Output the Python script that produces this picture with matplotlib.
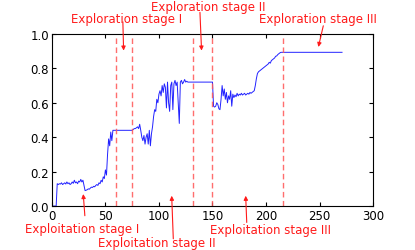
import numpy as np
import matplotlib
matplotlib.use('Agg')
import matplotlib.pyplot as plt

# data
step = [0, 4, 5, 6, 7, 8, 9, 10, 11, 12, 13, 14, 15, 16, 17, 18, 19, 20,
        21, 22, 23, 24, 25, 26, 27, 28, 29, 30, 31, 32, 33, 34, 35, 36, 37,
        38, 39, 40, 41, 42, 43, 44, 45, 46, 47, 48, 49, 50, 51, 52, 53, 54,
        55, 56, 57, 58, 75, 76, 77, 78, 79, 80, 81, 82, 83, 84, 85, 86, 87,
        88, 89, 90, 91, 92, 93, 94, 95, 96, 97, 98, 99, 100, 101, 102, 103,
        104, 105, 106, 107, 108, 109, 110, 111, 112, 113, 114, 115, 116, 117,
        118, 119, 120, 121, 122, 123, 124, 125, 126, 127, 128, 150, 151, 152,
        153, 154, 155, 156, 157, 158, 159, 160, 161, 162, 163, 164, 165, 166,
        167, 168, 169, 170, 171, 172, 173, 174, 175, 176, 177, 178, 179, 180,
        181, 182, 183, 184, 185, 186, 187, 188, 189, 190, 191, 192, 193, 194,
        195, 196, 197, 198, 199, 200, 201, 202, 203, 204, 205, 206, 207, 208,
        209, 210, 211, 212, 213, 214, 271]
value = [0.0, 0.0, 0.13, 0.125, 0.13, 0.128, 0.135, 0.125, 0.13, 0.135,
         0.128, 0.14, 0.13, 0.135, 0.125, 0.13, 0.14, 0.132, 0.15, 0.135,
         0.14, 0.13, 0.145, 0.14, 0.155, 0.14, 0.15, 0.12, 0.09, 0.092, 0.095,
         0.1, 0.098, 0.105, 0.11, 0.108, 0.115, 0.112, 0.12, 0.125, 0.12,
         0.135, 0.13, 0.15, 0.14, 0.17, 0.16, 0.21, 0.18, 0.3, 0.39, 0.35,
         0.43, 0.38, 0.44, 0.44, 0.44, 0.445, 0.45, 0.45, 0.455, 0.46, 0.45,
         0.475, 0.44, 0.40, 0.38, 0.41, 0.36, 0.40, 0.42, 0.36, 0.44, 0.35,
         0.42, 0.46, 0.52, 0.56, 0.55, 0.62, 0.60, 0.65, 0.67, 0.64, 0.70,
         0.66, 0.71, 0.69, 0.57, 0.72, 0.60, 0.55, 0.70, 0.72, 0.56, 0.71,
         0.73, 0.70, 0.72, 0.60, 0.48, 0.72, 0.73, 0.71, 0.72, 0.735, 0.72,
         0.725, 0.72, 0.72, 0.72, 0.58, 0.575, 0.58, 0.6, 0.59, 0.565, 0.56,
         0.62, 0.70, 0.64, 0.68, 0.62, 0.66, 0.60, 0.64, 0.62, 0.67, 0.58,
         0.65, 0.63, 0.645, 0.635, 0.655, 0.64, 0.65, 0.645, 0.655, 0.645,
         0.65, 0.655, 0.645, 0.65, 0.655, 0.65, 0.66, 0.655, 0.66, 0.665,
         0.67, 0.70, 0.74, 0.77, 0.78, 0.785, 0.79, 0.795, 0.80, 0.805, 0.81,
         0.815, 0.82, 0.825, 0.835, 0.83, 0.845, 0.85, 0.855, 0.86, 0.87,
         0.872, 0.88, 0.885, 0.89, 0.893, 0.893]
stage_bounds = [60, 75, 132, 150, 216]

plt.rcParams['font.size'] = 8.5
fig = plt.figure(figsize=(4.15, 2.51), dpi=100)
ax = fig.add_axes([0.125, 0.175, 0.774, 0.686])

ax.plot(step, value, color='#2222ff', lw=0.7)
for b in stage_bounds:
    ax.axvline(b, color='#ff5555', lw=1.0, dashes=(4, 2.5), alpha=0.85)

red = '#ff1a1a'
labels = [
    ('Exploration stage I', (70, 1.087), (66.3, 1.07), (67, 0.903)),
    ('Exploration stage II', (146, 1.158), (138.3, 1.125), (139.8, 0.903)),
    ('Exploration stage III', (248.6, 1.087), (253.5, 1.047), (248.9, 0.924)),
    ('Exploitation stage I', (28.5, -0.128), (30.8, -0.056), (29.3, 0.07)),
    ('Exploitation stage II', (97.8, -0.212), (113.4, -0.19), (111.9, 0.06)),
    ('Exploitation stage III', (204.2, -0.134), (182, -0.095), (181, 0.06)),
]
for txt, pos, start, tip in labels:
    ax.text(pos[0], pos[1], txt, color=red, ha='center', va='center',
            clip_on=False)
    ax.annotate('', xy=tip, xytext=start, annotation_clip=False,
                arrowprops=dict(arrowstyle='-|>', color=red, lw=0.8,
                                mutation_scale=6, shrinkA=0, shrinkB=0))

ax.set_xlim(0, 300)
ax.set_ylim(0, 1.0)
ax.set_xticks(np.arange(0, 301, 50))
ax.set_yticks(np.arange(0, 1.01, 0.2))
ax.tick_params(direction='in', top=True, right=True, length=3, pad=2)

fig.savefig('out.png', dpi=100)
